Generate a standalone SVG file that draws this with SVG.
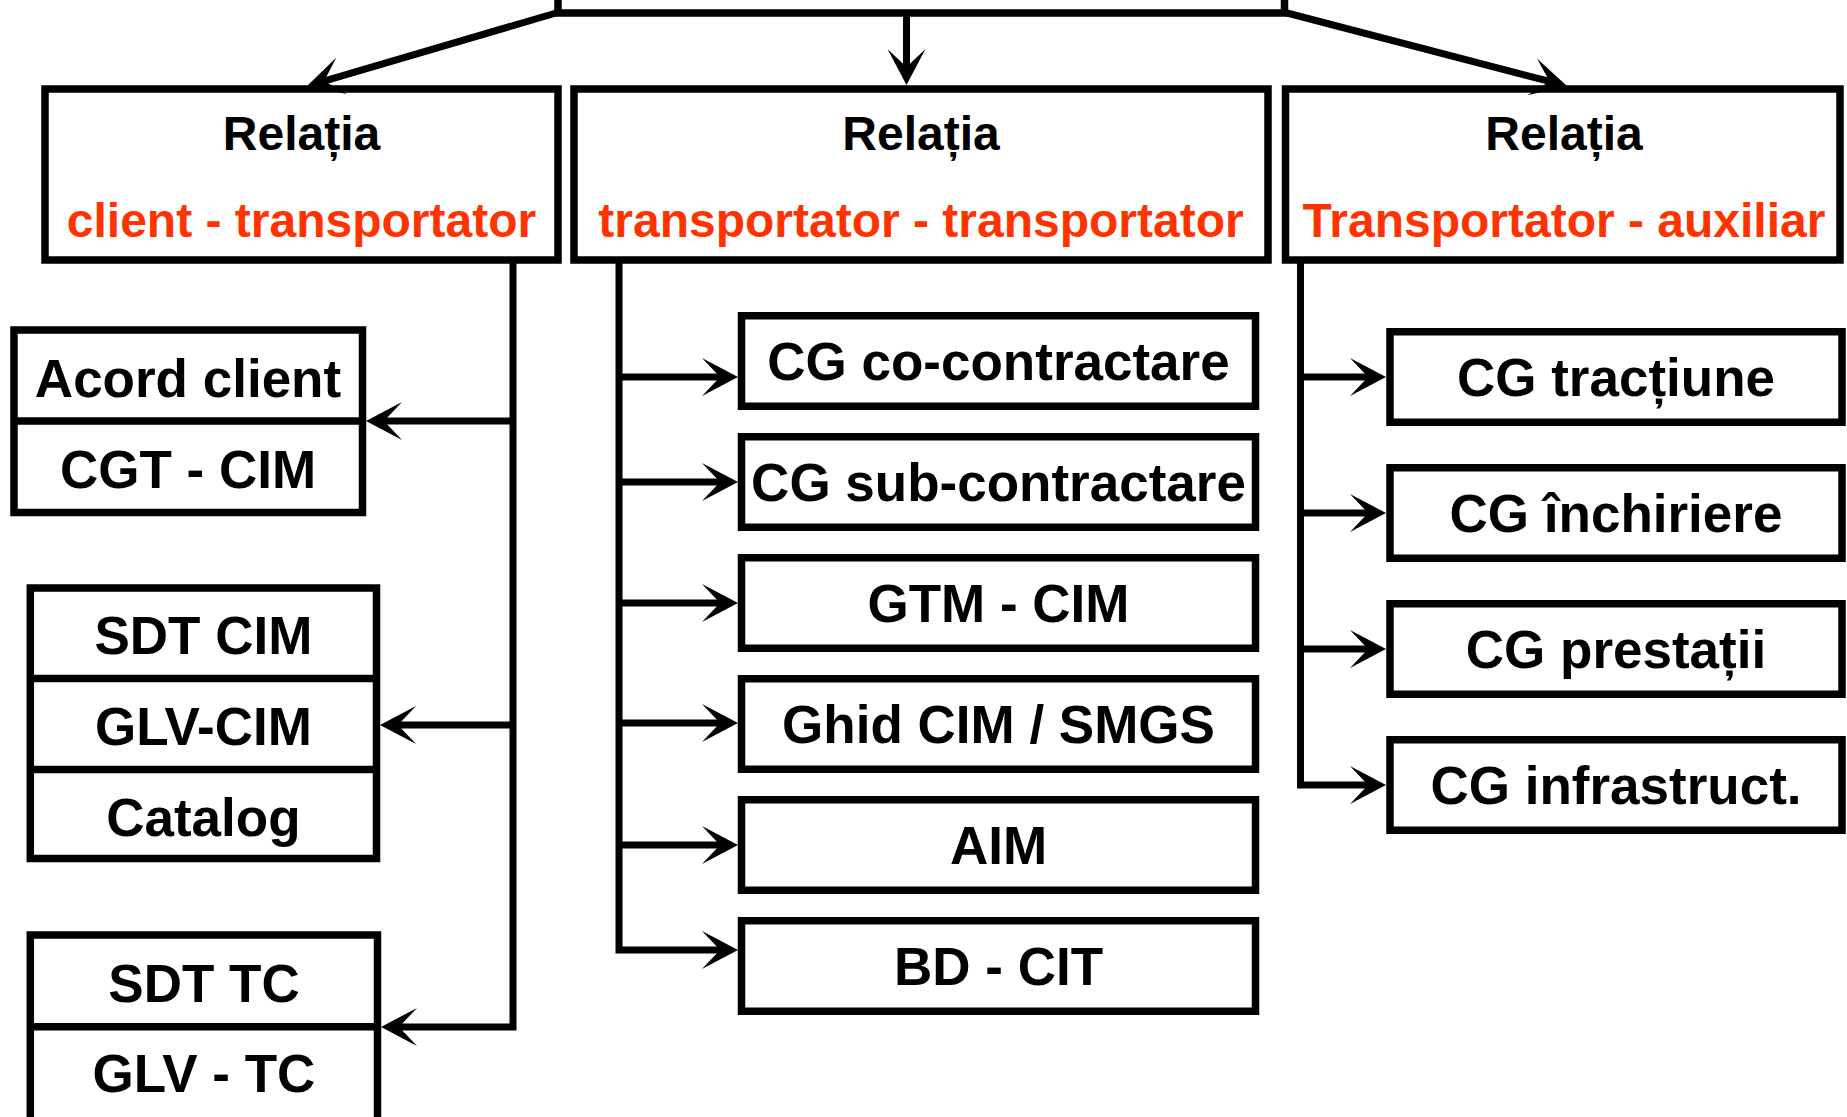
<svg xmlns="http://www.w3.org/2000/svg" width="1847" height="1117" viewBox="0 0 1847 1117">
<style>
.box{fill:#fff;stroke:#000;stroke-width:7.5}
.div{stroke:#000;stroke-width:7.5}
.con{fill:none;stroke:#000;stroke-width:7}
.t{font-family:"Liberation Sans",Arial,sans-serif;font-weight:bold;font-size:53px;fill:#000;text-anchor:middle}
.h{font-family:"Liberation Sans",Arial,sans-serif;font-weight:bold;font-size:48px;fill:#000;text-anchor:middle}
.r{fill:#FF3300}
</style>
<defs>
<marker id="ah" markerUnits="userSpaceOnUse" viewBox="-40 -22 44 44" markerWidth="44" markerHeight="44" refX="-15" refY="0" orient="auto">
<path d="M0,0 L-36,-19 L-18,0 L-36,19 Z" fill="#000"/>
</marker>
</defs>
<rect width="1847" height="1117" fill="#fff"/>

<g id="top">
<rect class="box" x="558" y="-200" width="726.5" height="213"/>
</g>

<g id="rel-client">
<rect class="box" x="45" y="89" width="513" height="171"/>
<text class="h" x="301.5" y="149.5">Relația</text>
<text class="h r" x="301.5" y="237">client - transportator</text>
</g>
<g id="rel-transportator">
<rect class="box" x="574" y="89" width="694" height="171"/>
<text class="h" x="921" y="149.5">Relația</text>
<text class="h r" x="921" y="237">transportator - transportator</text>
</g>
<g id="rel-auxiliar">
<rect class="box" x="1285.5" y="89" width="554.5" height="171"/>
<text class="h" x="1564" y="149.5">Relația</text>
<text class="h r" x="1564" y="237">Transportator - auxiliar</text>
</g>

<g id="acord">
<rect class="box" x="14" y="330" width="348.5" height="182.5"/>
<line class="div" x1="14" y1="421" x2="362.5" y2="421"/>
<text class="t" x="188" y="396.5">Acord client</text>
<text class="t" x="188" y="487.5">CGT - CIM</text>
</g>
<g id="sdt-cim">
<rect class="box" x="30.3" y="588" width="346.2" height="270.5"/>
<line class="div" x1="30.3" y1="678.6" x2="376.5" y2="678.6"/>
<line class="div" x1="30.3" y1="769.6" x2="376.5" y2="769.6"/>
<text class="t" x="203.4" y="653.6">SDT CIM</text>
<text class="t" x="203.4" y="744.6">GLV-CIM</text>
<text class="t" x="203.4" y="835.7">Catalog</text>
</g>
<g id="sdt-tc">
<rect class="box" x="30.3" y="935" width="347.2" height="200"/>
<line class="div" x1="30.3" y1="1026.7" x2="377.5" y2="1026.7"/>
<text class="t" x="204" y="1001.7">SDT TC</text>
<text class="t" x="204" y="1092">GLV - TC</text>
</g>

<g id="cg-co">
<rect class="box" x="741.5" y="315.75" width="514" height="90.5"/>
<text class="t" x="998.5" y="380">CG co-contractare</text>
</g>
<g id="cg-sub">
<rect class="box" x="741.5" y="436.75" width="514" height="90.5"/>
<text class="t" x="998.5" y="501">CG sub-contractare</text>
</g>
<g id="gtm">
<rect class="box" x="741.5" y="557.75" width="514" height="90.5"/>
<text class="t" x="998.5" y="622">GTM - CIM</text>
</g>
<g id="ghid">
<rect class="box" x="741.5" y="678.75" width="514" height="90.5"/>
<text class="t" x="998.5" y="743">Ghid CIM / SMGS</text>
</g>
<g id="aim">
<rect class="box" x="741.5" y="799.75" width="514" height="90.5"/>
<text class="t" x="998.5" y="864">AIM</text>
</g>
<g id="bd-cit">
<rect class="box" x="741.5" y="920.75" width="514" height="90.5"/>
<text class="t" x="998.5" y="985">BD - CIT</text>
</g>

<g id="cg-tract">
<rect class="box" x="1390" y="331.75" width="452" height="90.5"/>
<text class="t" x="1616" y="396">CG tracțiune</text>
</g>
<g id="cg-inch">
<rect class="box" x="1390" y="467.75" width="452" height="90.5"/>
<text class="t" x="1616" y="532">CG închiriere</text>
</g>
<g id="cg-prest">
<rect class="box" x="1390" y="603.75" width="452" height="90.5"/>
<text class="t" x="1616" y="668">CG prestații</text>
</g>
<g id="cg-infra">
<rect class="box" x="1390" y="739.75" width="452" height="90.5"/>
<text class="t" x="1616" y="804">CG infrastruct.</text>
</g>

<g id="connectors">
<path class="con" d="M556,13 L321.4,81.8" marker-end="url(#ah)"/>
<path class="con" d="M906.5,13 V70" marker-end="url(#ah)"/>
<path class="con" d="M1287,13 L1552.5,82.2" marker-end="url(#ah)"/>

<path class="con" d="M513,258 V1027 H396" marker-end="url(#ah)"/>
<path class="con" d="M513,421 H381" marker-end="url(#ah)"/>
<path class="con" d="M513,725 H395" marker-end="url(#ah)"/>

<path class="con" d="M619,258 V950 H723" marker-end="url(#ah)"/>
<path class="con" d="M619,377 H723" marker-end="url(#ah)"/>
<path class="con" d="M619,482 H723" marker-end="url(#ah)"/>
<path class="con" d="M619,603 H723" marker-end="url(#ah)"/>
<path class="con" d="M619,723 H723" marker-end="url(#ah)"/>
<path class="con" d="M619,845 H723" marker-end="url(#ah)"/>

<path class="con" d="M1300.5,258 V785 H1371" marker-end="url(#ah)"/>
<path class="con" d="M1300.5,377 H1371" marker-end="url(#ah)"/>
<path class="con" d="M1300.5,513 H1371" marker-end="url(#ah)"/>
<path class="con" d="M1300.5,649 H1371" marker-end="url(#ah)"/>
</g>
</svg>
